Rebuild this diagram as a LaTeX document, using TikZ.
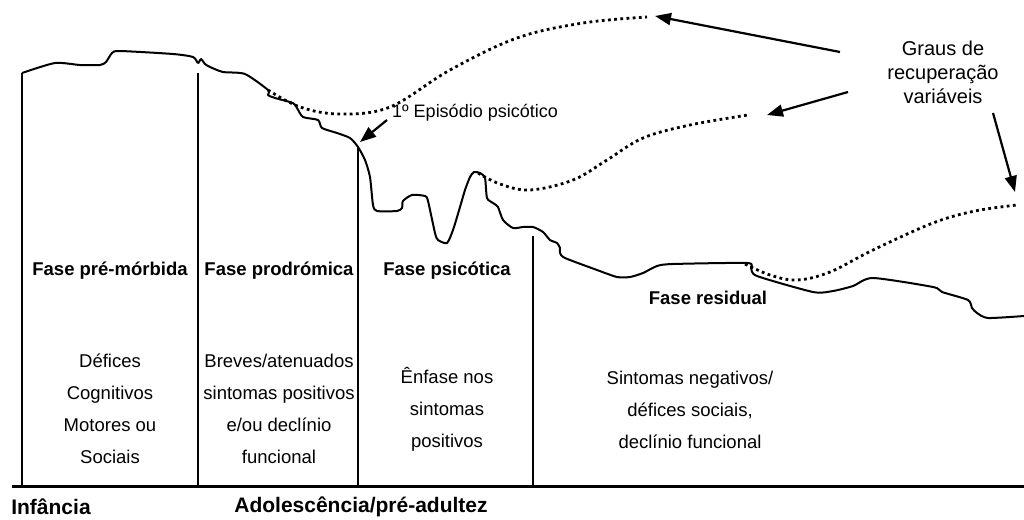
\documentclass[tikz,border=0pt]{standalone}
\usepackage{fontspec}
\setmainfont{Liberation Sans}
\usetikzlibrary{arrows.meta}

\tikzset{
	curve/.style={line width=2pt, line join=round},
	recov/.style={line width=2.8pt, dash pattern=on 2.8pt off 3.4pt},
	divider/.style={line width=2.2pt},
	pointer/.style={-{Triangle[length=16pt,width=12pt]}, line width=2.2pt},
	phase/.style={font=\fontsize{18.5}{22}\selectfont\bfseries},
	desc/.style={align=center, font=\fontsize{18.5}{32}\selectfont},
	period/.style={font=\fontsize{21}{24}\selectfont\bfseries},
}

\begin{document}
\begin{tikzpicture}[x=1pt,y=-1pt]
	\useasboundingbox (0,0) rectangle (1024,519);

	% baseline and dividers
	\coordinate (b0) at (12,486);
	\coordinate (b1) at (1024,486);
	\draw[line width=3pt] (b0) -- (b1);
	\foreach \x/\y [count=\i] in {22/73, 198/73, 358/148, 533/236}
		\draw[divider] (\x,\y) coordinate (top\i) -- (\x,486);

	% course of the illness
	\draw[curve] plot[smooth, tension=0.4] coordinates {
		(22,73) (55,63) (80,65) (100,65) (106,62) (112,53) (120,51) (173,54)
		(193,57) (198,63) (201,59) (205,64) (210,67) (223,72) (245,74) (268,90)
		(268,95) (275,98) (293,103) (297,108) (303,117) (318,120) (322,128)
		(337,133) (350,138) (358,147) (365,160) (370,177) (373,205) (377,211)
		(397,211) (402,208) (403,201) (412,195) (425,196) (428,201) (435,233)
		(438,240) (447,243) (453,230) (460,207) (465,190) (470,177) (474,172)
		(480,173) (485,178) (487,198) (493,203) (498,207) (503,220) (513,228)
		(523,227) (533,227) (543,232) (550,240) (557,243) (560,248) (560,253)
		(565,258) (597,270) (617,277) (630,277) (643,273) (657,266) (673,264)
		(747,263) (751,268) (757,276) (813,292) (833,291) (853,286) (873,278)
		(933,287) (942,292) (968,300) (972,308) (977,313) (988,318) (1024,316)};

	% recovery paths
	\draw[recov] plot[smooth, tension=0.6] coordinates {
		(268,90) (300,107) (340,114) (390,107) (450,70) (517,38) (583,23) (647,17)};
	\draw[recov] plot[smooth, tension=0.6] coordinates {
		(478,173) (500,184) (530,190) (573,180) (607,160) (643,138) (690,125) (748,115)};
	\draw[recov] plot[smooth, tension=0.6] coordinates {
		(745,264) (770,275) (797,280) (830,272) (873,250) (933,223) (975,211) (1017,205)};

	% labels
	\node[align=center, font=\fontsize{20}{24}\selectfont] (graus) at (943,72) {Graus de\\recuperação\\variáveis};
	\node[font=\fontsize{18}{20}\selectfont] (episodio) at (475,113) {1º Episódio psicótico};

	\coordinate (g1) at (840,52);   \coordinate (t1) at (655,16);
	\coordinate (g2) at (848,92);   \coordinate (t2) at (767,115);
	\coordinate (g3) at (993,113);  \coordinate (t3) at (1015,192);
	\coordinate (e0) at (387,120);  \coordinate (e1) at (360,142);
	\draw[pointer] (g1) -- (t1);
	\draw[pointer] (g2) -- (t2);
	\draw[pointer] (g3) -- (t3);
	\draw[pointer] (e0) -- (e1);

	\node[phase] (premorbida) at (110,271) {Fase pré-mórbida};
	\node[phase] (prodromica) at (279,271) {Fase prodrómica};
	\node[phase] (psicotica) at (447,271) {Fase psicótica};
	\node[phase] (residual) at (708,298) {Fase residual};

	\node[desc] (deficit) at (110,409) {Défices\\Cognitivos\\Motores ou\\Sociais};
	\node[desc] (breves) at (279,409) {Breves/atenuados\\sintomas positivos\\e/ou declínio\\funcional};
	\node[desc] (enfase) at (447,409) {Ênfase nos\\sintomas\\positivos};
	\node[desc] (negativos) at (690,410) {Sintomas negativos/\\défices sociais,\\declínio funcional};

	\node[period] (infancia) at (51,507) {Infância};
	\node[period] (adolesc) at (361,507) {Adolescência/pré-adultez};
\end{tikzpicture}
\end{document}
